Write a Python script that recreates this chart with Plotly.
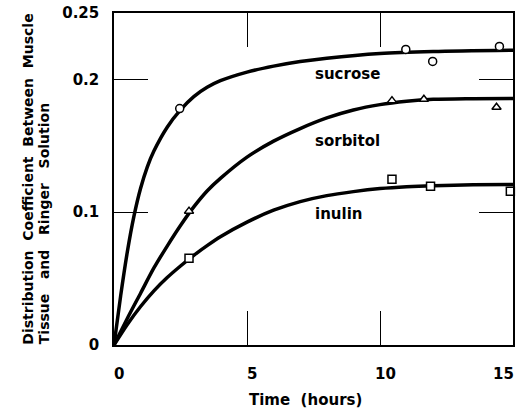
import plotly.graph_objects as go

# Smooth fitted curves
sucrose_curve_t = [0, 0.25, 0.5, 0.75, 1.0, 1.25, 1.5, 2.0, 2.5, 3.0, 3.5, 4.0, 5.0, 6.0, 7.0, 8.0, 10.0, 12.0, 15.0]
sucrose_curve_y = [0, 0.037, 0.070, 0.097, 0.118, 0.134, 0.146, 0.164, 0.177, 0.187, 0.194, 0.199, 0.2055, 0.210, 0.2135, 0.216, 0.2195, 0.221, 0.222]

sorbitol_curve_t = [0, 0.5, 1.0, 1.5, 2.0, 2.5, 3.0, 3.5, 4.0, 5.0, 6.0, 7.0, 8.0, 9.0, 10.0, 11.0, 12.0, 13.5, 15.0]
sorbitol_curve_y = [0, 0.020, 0.039, 0.058, 0.0745, 0.090, 0.104, 0.116, 0.1255, 0.1415, 0.1535, 0.163, 0.171, 0.177, 0.181, 0.1835, 0.185, 0.1855, 0.1857]

inulin_curve_t = [0, 0.5, 1.0, 1.5, 2.0, 2.5, 3.0, 3.5, 4.0, 5.0, 6.0, 7.0, 8.0, 9.0, 10.0, 11.0, 12.0, 13.5, 15.0]
inulin_curve_y = [0, 0.0155, 0.029, 0.0408, 0.0508, 0.0595, 0.0675, 0.0748, 0.0815, 0.0925, 0.1015, 0.108, 0.1125, 0.1155, 0.1178, 0.1192, 0.1200, 0.1206, 0.1208]

# Measured points
sucrose_t = [2.47, 10.97, 11.98, 14.49]
sucrose_y = [0.178, 0.2226, 0.2135, 0.2248]
sorbitol_t = [2.82, 10.45, 11.65, 14.38]
sorbitol_y = [0.1008, 0.184, 0.185, 0.179]
inulin_t = [2.82, 10.45, 11.9, 14.9]
inulin_y = [0.0654, 0.1248, 0.1195, 0.1158]

x_ticks = [0, 5, 10, 15]
x_tick_labels = ["0", "5", "10", "15"]
y_ticks = [0, 0.1, 0.2, 0.25]
y_tick_labels = ["0", "0.1", "0.2", "0.25"]

labels = ["sucrose", "sorbitol", "inulin"]
label_x = [7.48, 7.48, 7.48]
label_y = [0.2038, 0.1534, 0.0985]

x_title = "Time  (hours)"
y_title_lines = ["Distribution  Coefficient  Between  Muscle", "Tissue   and   Ringer   Solution"]
y_title_x = [-0.2143, -0.1754]

FONT = "DejaVu Sans"
BOLD = dict(family=FONT, size=15, color="black", weight="bold")

fig = go.Figure()
for ct, cy in [(sucrose_curve_t, sucrose_curve_y), (sorbitol_curve_t, sorbitol_curve_y), (inulin_curve_t, inulin_curve_y)]:
    fig.add_trace(go.Scatter(x=ct, y=cy, mode="lines", line=dict(color="black", width=3.5, shape="spline", smoothing=0.8),
                             showlegend=False, hoverinfo="skip"))

for t, y, sym in [(sucrose_t, sucrose_y, "circle"), (sorbitol_t, sorbitol_y, "triangle-up"), (inulin_t, inulin_y, "square")]:
    fig.add_trace(go.Scatter(x=t, y=y, mode="markers",
                             marker=dict(symbol=sym, size=8, color="white", line=dict(color="black", width=1.5)),
                             showlegend=False, cliponaxis=False))

for txt, lx, ly in zip(labels, label_x, label_y):
    fig.add_annotation(x=lx, y=ly, text=txt, showarrow=False, xanchor="left", yanchor="middle", font=BOLD)

# x tick labels (drawn as annotations so the last one stays inside the picture)
for i, (tv, tl) in enumerate(zip(x_ticks, x_tick_labels)):
    last = i == len(x_ticks) - 1
    fig.add_annotation(x=tv, xref="x", y=0, yref="paper", text=tl, showarrow=False,
                       xanchor="right" if last else "center", yanchor="top",
                       xshift=3 if last else 5, yshift=-18, font=BOLD)

fig.add_annotation(x=0.481, xref="paper", y=0, yref="paper", text=x_title, showarrow=False,
                   xanchor="center", yanchor="middle", yshift=-55, font=BOLD)

for txt, tx in zip(y_title_lines, y_title_x):
    fig.add_annotation(xref="paper", yref="paper", x=tx, y=-0.005, text=txt,
                       showarrow=False, textangle=-90, xanchor="center", yanchor="bottom",
                       font=dict(family=FONT, size=14, color="black", weight="bold"))

axis_common = dict(showline=True, linecolor="black", linewidth=1.5, mirror="allticks", ticks="inside",
                   ticklen=34, tickwidth=1, tickcolor="black", showgrid=False, zeroline=False,
                   automargin=False, tickfont=BOLD)

fig.update_layout(
    width=516, height=409,
    margin=dict(l=114, r=3, t=13, b=64),
    paper_bgcolor="white", plot_bgcolor="white",
    xaxis=dict(range=[0, 15], tickvals=x_ticks, ticktext=x_tick_labels, showticklabels=False, **axis_common),
    yaxis=dict(range=[0, 0.25], tickvals=y_ticks, ticktext=y_tick_labels, ticklabelstandoff=10, **axis_common),
)

fig.write_html("out.html", config={"displayModeBar": False},
               post_script="document.body.style.margin='0px';")
